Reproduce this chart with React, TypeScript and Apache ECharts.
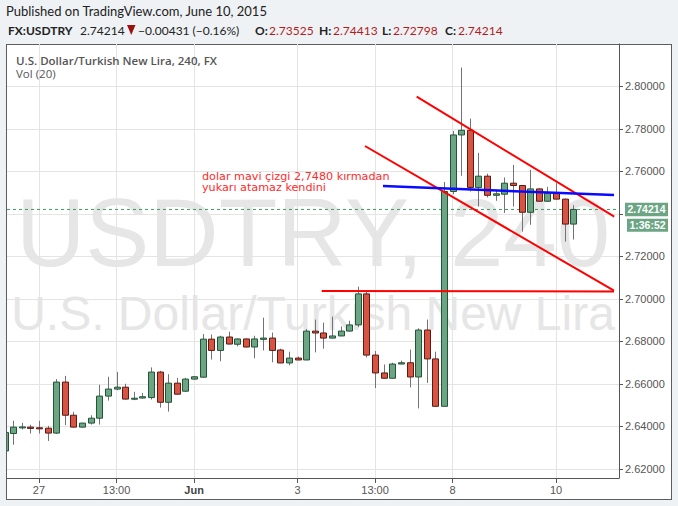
import React, { useEffect, useRef } from "react";
import * as echarts from "echarts";

// USD/TRY, 4-hour candles (index 0 = first candle at the left edge)
const opens = [
  2.6285, 2.6367, 2.6395, 2.6397, 2.6394, 2.6392, 2.6369, 2.6609, 2.6453, 2.6397,
  2.6416, 2.6439, 2.6543, 2.6576, 2.6585, 2.6529, 2.6534, 2.6536, 2.6656, 2.6514,
  2.6604, 2.6566, 2.6623, 2.6632, 2.6811, 2.6758, 2.6821, 2.6787, 2.6812, 2.6774,
  2.681, 2.6816, 2.676, 2.6699, 2.6722, 2.6713, 2.6849, 2.684, 2.6816, 2.6826,
  2.6849, 2.6878, 2.7024, 2.6736, 2.6652, 2.6627, 2.6694, 2.67, 2.6633, 2.6854,
  2.6718, 2.6495, 2.7506, 2.7772, 2.7794, 2.7525, 2.7578, 2.7488, 2.7493, 2.7545,
  2.7534, 2.7408, 2.7518, 2.746, 2.7498, 2.747, 2.73525,
];
const highs = [
  2.638, 2.6427, 2.6417, 2.6408, 2.6427, 2.6403, 2.6623, 2.6638, 2.6469, 2.6417,
  2.6453, 2.6596, 2.6634, 2.6657, 2.6601, 2.6563, 2.6558, 2.6678, 2.6662, 2.6646,
  2.6629, 2.6629, 2.6637, 2.6835, 2.6833, 2.6827, 2.6846, 2.6814, 2.6814, 2.6827,
  2.6912, 2.6842, 2.6766, 2.6752, 2.6729, 2.6859, 2.6903, 2.6889, 2.6917, 2.6871,
  2.6898, 2.7058, 2.7036, 2.6755, 2.6692, 2.67, 2.671, 2.6762, 2.6862, 2.6903,
  2.6752, 2.7551, 2.7791, 2.8089, 2.7849, 2.7688, 2.759, 2.7509, 2.7572, 2.7631,
  2.7536, 2.7608, 2.752, 2.7528, 2.7545, 2.7472, 2.74413,
];
const lows = [
  2.628, 2.6314, 2.6386, 2.6367, 2.6367, 2.6332, 2.6365, 2.6406, 2.6395, 2.6395,
  2.6409, 2.6409, 2.6522, 2.6571, 2.6527, 2.6524, 2.6532, 2.6527, 2.6489, 2.647,
  2.655, 2.6564, 2.6621, 2.663, 2.6715, 2.6707, 2.6786, 2.6777, 2.6772, 2.6721,
  2.6758, 2.6702, 2.6698, 2.6688, 2.6712, 2.6712, 2.6749, 2.6766, 2.6815, 2.6825,
  2.6847, 2.6867, 2.6725, 2.6581, 2.6625, 2.6626, 2.6693, 2.6584, 2.6485, 2.6605,
  2.6494, 2.6494, 2.7493, 2.758, 2.7506, 2.7435, 2.7478, 2.7462, 2.7405, 2.7435,
  2.7317, 2.7349, 2.7458, 2.7458, 2.7469, 2.727, 2.72798,
];
const closes = [
  2.6372, 2.6397, 2.6398, 2.6391, 2.6389, 2.6369, 2.6609, 2.6453, 2.6397, 2.6416,
  2.6439, 2.6543, 2.6576, 2.6585, 2.6529, 2.6533, 2.654, 2.6656, 2.6514, 2.6604,
  2.6552, 2.6623, 2.6634, 2.6811, 2.6758, 2.6821, 2.6788, 2.6812, 2.6774, 2.6812,
  2.6816, 2.6758, 2.6699, 2.6722, 2.6713, 2.6849, 2.684, 2.6816, 2.6826, 2.6849,
  2.6878, 2.7024, 2.6736, 2.6652, 2.6627, 2.6694, 2.67, 2.6633, 2.6854, 2.6718,
  2.6495, 2.7506, 2.7772, 2.7794, 2.7525, 2.7578, 2.7488, 2.7495, 2.7545, 2.7534,
  2.7408, 2.7518, 2.746, 2.7498, 2.747, 2.73525, 2.74214,
];

// time-axis labels, placed on candle indices
const dayTickIndex = [4, 13, 22, 34, 43, 52, 64];
const dayTickText = ["27", "13:00", "Jun", "3", "13:00", "8", "10"];
// price grid; the 2.74 label sits under the last-price tag, so it is not printed
const priceTicks = [2.62, 2.64, 2.66, 2.68, 2.7, 2.72, 2.74, 2.76, 2.78, 2.8];
const priceLabels = [2.62, 2.64, 2.66, 2.68, 2.7, 2.72, 2.76, 2.78, 2.8];

const lastClose = 2.74214;
const headerStats = { open: "2.73525", high: "2.74413", low: "2.72798", close: "2.74214" };

// hand-drawn trend lines as [candle index, price]
const upperChannel = [[47.83, 2.79521], [70.76, 2.73873]];
const lowerChannel = [[41.83, 2.772], [70.73, 2.70391]];
const supportLine = [[36.81, 2.70377], [70.73, 2.7035]];
const blueLine = [[43.92, 2.75313], [70.73, 2.74894]];

const X_MIN = 0.287;
const X_MAX = 71.31;
const Y_MIN = 2.61576;
const Y_MAX = 2.82;

const UP_FILL = "#6ba583";
const UP_LINE = "#225437";
const DOWN_FILL = "#d75442";
const DOWN_LINE = "#5b1a13";
const WICK = "#737375";

export default function App() {
  const ref = useRef<HTMLDivElement>(null);

  useEffect(() => {
    if (!ref.current) return;
    const chart = echarts.init(ref.current, null, { renderer: "svg" });

    const candles = opens.map((o, i) => [i, o, closes[i], lows[i], highs[i]]);

    const trend = (name: string, data: number[][], color: string, width: number) => ({
      type: "line",
      name,
      data,
      symbol: "none",
      silent: true,
      z: 4,
      lineStyle: { color, width },
    });

    chart.setOption({
      animation: false,
      grid: { left: 7, top: 44, right: 59, bottom: 28, containLabel: false },
      xAxis: {
        type: "value",
        min: X_MIN,
        max: X_MAX,
        axisLine: { show: true, lineStyle: { color: "#555", width: 1 } },
        axisTick: { show: true, customValues: dayTickIndex, length: 5, lineStyle: { color: "#555" } },
        axisLabel: {
          customValues: dayTickIndex,
          color: "#555",
          fontSize: 11,
          fontFamily: "Liberation Sans",
          margin: 6,
          formatter: (v: number) => {
            const k = dayTickIndex.indexOf(v);
            if (k < 0) return "";
            const t = dayTickText[k];
            return t === "Jun" ? "{b|Jun}" : t;
          },
          rich: { b: { fontWeight: "bold", color: "#444", fontSize: 11, fontFamily: "Liberation Sans" } },
        },
        splitLine: { show: true, lineStyle: { color: "#e4e4e4", width: 1 } },
      },
      yAxis: {
        type: "value",
        position: "right",
        min: Y_MIN,
        max: Y_MAX,
        scale: true,
        axisLine: { show: true, lineStyle: { color: "#555", width: 1 } },
        axisTick: { show: true, customValues: priceTicks, length: 4, lineStyle: { color: "#555" } },
        axisLabel: {
          customValues: priceLabels,
          color: "#555",
          fontSize: 11,
          fontFamily: "Liberation Sans",
          margin: 6,
          formatter: (v: number) => v.toFixed(5),
        },
        splitLine: { show: true, lineStyle: { color: "#e4e4e4", width: 1 } },
      },
      series: [
        {
          type: "line",
          name: "last",
          data: [[X_MIN, lastClose], [X_MAX, lastClose]],
          symbol: "none",
          silent: true,
          z: 1,
          lineStyle: { color: "#3d9a63", width: 1, type: [3, 3] },
        },
        {
          type: "custom",
          name: "USDTRY",
          clip: true,
          z: 3,
          data: candles,
          encode: { x: 0, y: [1, 2, 3, 4] },
          renderItem: (_params: any, api: any) => {
            const i = api.value(0);
            const o = api.value(1);
            const c = api.value(2);
            const l = api.value(3);
            const h = api.value(4);
            const pO = api.coord([i, o]);
            const pC = api.coord([i, c]);
            const pL = api.coord([i, l]);
            const pH = api.coord([i, h]);
            const up = c >= o;
            const cx = Math.round(pO[0]) + 0.5;
            const top = Math.min(pO[1], pC[1]);
            const bot = Math.max(pO[1], pC[1]);
            return {
              type: "group",
              children: [
                {
                  type: "line",
                  shape: { x1: cx, y1: pH[1], x2: cx, y2: pL[1] },
                  style: { stroke: WICK, lineWidth: 1 },
                },
                {
                  type: "rect",
                  shape: { x: cx - 3, y: top, width: 6, height: Math.max(bot - top, 1) },
                  style: {
                    fill: up ? UP_FILL : DOWN_FILL,
                    stroke: up ? UP_LINE : DOWN_LINE,
                    lineWidth: 1,
                  },
                },
              ],
            };
          },
        },
        trend("upper", upperChannel, "#ff0000", 2),
        trend("lower", lowerChannel, "#ff0000", 2),
        trend("support", supportLine, "#ff0000", 2),
        trend("blue", blueLine, "#0a0aff", 2.5),
      ],
    });

    const yLast = chart.convertToPixel({ yAxisIndex: 0 }, lastClose) as number;
    const plotCenter = 313;

    const hdr = (x: number, text: string, fill: string, bold = false) => ({
      type: "text",
      x,
      y: 30,
      style: {
        text,
        fill,
        font: `${bold ? "bold " : ""}12px Lato`,
        verticalAlign: "middle",
      },
    });

    chart.setOption({
      graphic: [
        {
          type: "text",
          x: plotCenter,
          y: 232,
          z: -1,
          silent: true,
          style: {
            text: "USDTRY, 240",
            fill: "#e6e6e6",
            font: "96px Liberation Sans",
            align: "center",
            verticalAlign: "middle",
          },
        },
        {
          type: "text",
          x: plotCenter,
          y: 313,
          z: -1,
          silent: true,
          style: {
            text: "U.S. Dollar/Turkish New Lira",
            fill: "#e6e6e6",
            font: "48px Liberation Sans",
            align: "center",
            verticalAlign: "middle",
          },
        },
        {
          type: "text",
          x: 16,
          y: 60.5,
          style: {
            text: "U.S. Dollar/Turkish New Lira, 240, FX",
            fill: "#555",
            font: "600 11.5px 'Open Sans'",
            verticalAlign: "middle",
          },
        },
        {
          type: "text",
          x: 16,
          y: 73,
          style: { text: "Vol (20)", fill: "#555", font: "11.5px 'Open Sans'", verticalAlign: "middle" },
        },
        {
          type: "text",
          x: 202,
          y: 176.3,
          style: {
            text: "dolar mavi çizgi 2,7480 kırmadan",
            fill: "#ff2b2b",
            font: "11.2px 'DejaVu Sans'",
            verticalAlign: "middle",
          },
        },
        {
          type: "text",
          x: 202,
          y: 187.6,
          style: {
            text: "yukarı atamaz kendini",
            fill: "#ff2b2b",
            font: "11.2px 'DejaVu Sans'",
            verticalAlign: "middle",
          },
        },
        {
          type: "text",
          x: 6,
          y: 11,
          style: {
            text: "Published on TradingView.com, June 10, 2015",
            fill: "#222",
            font: "13px Lato",
            verticalAlign: "middle",
          },
        },
        hdr(8, "FX:USDTRY", "#222", true),
        hdr(80, closes[closes.length - 1].toFixed(5), "#222"),
        {
          type: "polygon",
          shape: { points: [[127, 25], [135.5, 25], [131.25, 35]] },
          style: { fill: "#9b1111" },
        },
        hdr(138, "\u22120.00431 (\u22120.16%)", "#222"),
        hdr(255, "O:", "#222", true),
        hdr(269, headerStats.open, "#b21d1d"),
        hdr(319, "H:", "#222", true),
        hdr(333, headerStats.high, "#b21d1d"),
        hdr(382, "L:", "#222", true),
        hdr(393, headerStats.low, "#b21d1d"),
        hdr(445, "C:", "#222", true),
        hdr(458, headerStats.close, "#b21d1d"),
        {
          type: "rect",
          z: 100,
          shape: { x: 625, y: yLast - 6.7, width: 43, height: 13.4 },
          style: { fill: UP_FILL },
        },
        {
          type: "text",
          z: 101,
          x: 646.5,
          y: yLast,
          style: {
            text: lastClose.toFixed(5),
            fill: "#fff",
            font: "bold 10.5px Liberation Sans",
            align: "center",
            verticalAlign: "middle",
          },
        },
        {
          type: "rect",
          z: 100,
          shape: { x: 627, y: yLast + 9.3, width: 41, height: 13 },
          style: { fill: UP_FILL },
        },
        {
          type: "text",
          z: 101,
          x: 647.5,
          y: yLast + 15.8,
          style: {
            text: "1:36:52",
            fill: "#fff",
            font: "bold 10.5px Liberation Sans",
            align: "center",
            verticalAlign: "middle",
          },
        },
      ],
    });

    return () => chart.dispose();
  }, []);

  return (
    <div
      style={{
        position: "fixed",
        left: 0,
        top: 0,
        width: 678,
        height: 506,
        background: "#eff2f5",
        overflow: "hidden",
      }}
    >
      <div
        style={{
          position: "absolute",
          left: 6,
          top: 44,
          width: 666,
          height: 456,
          border: "1px solid #5d5d5d",
          boxSizing: "border-box",
          background: "#fff",
        }}
      />
      <div ref={ref} style={{ position: "absolute", left: 0, top: 0, width: 678, height: 506 }} />
    </div>
  );
}
